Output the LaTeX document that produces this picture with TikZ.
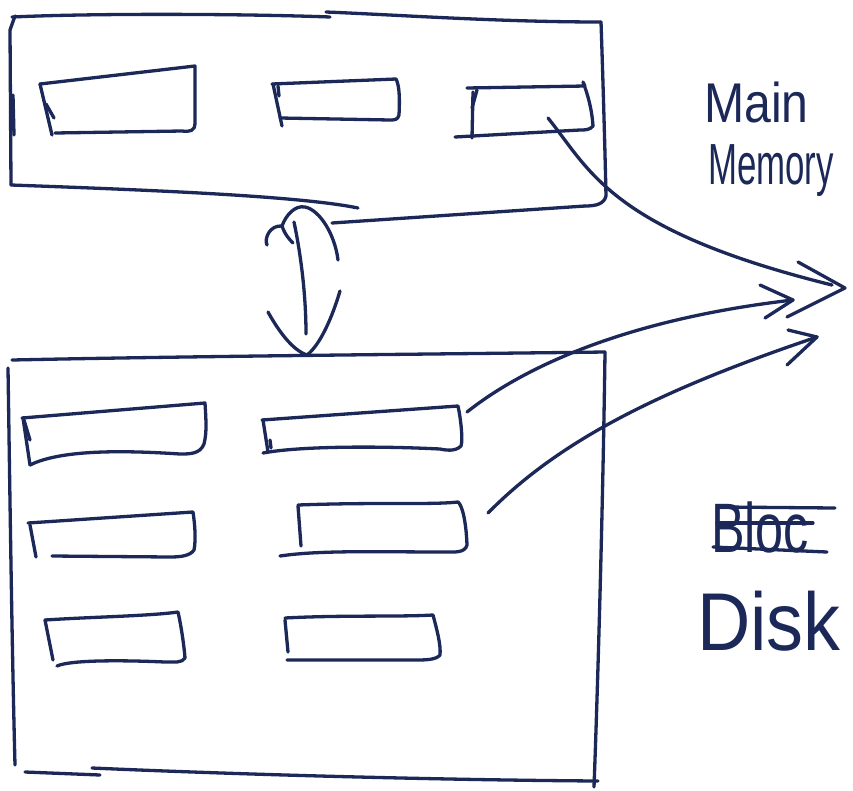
\documentclass[tikz,border=0pt]{standalone}
\usepackage{fontspec}
\setmainfont{Liberation Sans}
\definecolor{ink}{HTML}{1B2858}
\begin{document}
\begin{tikzpicture}[x=1pt,y=-1pt,
  pen/.style={draw=ink,line width=3.3pt,line cap=round,line join=round},
  lbl/.style={text=ink,inner sep=0pt,anchor=base west}]
\useasboundingbox[fill=white] (0,0) rectangle (853,790);

% ---------- Main memory box ----------
\draw[pen] (12,17) .. controls (100,13) and (250,14) .. (330,17);
\draw[pen] (326,12) .. controls (400,15) and (500,22) .. (601,22);
\draw[pen] (15,16) -- (10,30) -- (11,185);
\draw[pen] (13,95) -- (14,135);
\draw[pen] (11,185) .. controls (150,190) and (300,196) .. (358,208);
\draw[pen] (601,22) .. controls (603,80) and (605,150) .. (606,196) .. controls (604,204) and (596,206) .. (585,206);
\draw[pen] (585,206) -- (332,223);

% memory blocks
\draw[pen] (40,84) -- (195,66) -- (195,123) .. controls (195,131) and (190,132) .. (182,131) -- (55,133);
\draw[pen] (40,84) -- (52,135);
\draw[pen] (46,104) -- (54,118);
\draw[pen] (272,84) -- (396,79) .. controls (399,85) and (400,95) .. (399,115) .. controls (398,120) and (394,120) .. (390,120) -- (280,118);
\draw[pen] (273,84) -- (282,126);
\draw[pen] (278,86) -- (279,96);
\draw[pen] (467,88) -- (585,86) -- (583,82) .. controls (588,95) and (592,110) .. (593,126) .. controls (590,130) and (585,130) .. (580,130) -- (455,137);
\draw[pen] (473,92) -- (472,138);
\draw[pen] (477,90) -- (472,108);

% ---------- Disk box ----------
\draw[pen] (12,360) .. controls (200,356) and (450,354) .. (605,352);
\draw[pen] (8,368) .. controls (10,500) and (12,650) .. (15,765);
\draw[pen] (25,772) -- (100,775);
\draw[pen] (92,768) .. controls (250,775) and (450,780) .. (598,781);
\draw[pen] (605,352) .. controls (603,500) and (598,680) .. (594,787);

% disk blocks
\draw[pen] (22,418) -- (205,403) .. controls (206,420) and (207,432) .. (204,444) .. controls (200,454) and (190,454) .. (180,454) .. controls (120,450) and (60,450) .. (30,465);
\draw[pen] (23,418) -- (30,465);
\draw[pen] (24,420) -- (30,440);
\draw[pen] (262,420) -- (458,406) .. controls (461,420) and (463,440) .. (461,446) .. controls (455,452) and (445,450) .. (440,449) .. controls (380,446) and (300,446) .. (263,453);
\draw[pen] (263,420) -- (268,452);
\draw[pen] (270,440) -- (271,448);
\draw[pen] (28,523) -- (193,512) .. controls (195,525) and (196,540) .. (194,550) .. controls (190,556) and (180,557) .. (170,557) -- (52,556);
\draw[pen] (30,525) -- (36,557);
\draw[pen] (298,505) .. controls (380,502) and (430,505) .. (458,502) .. controls (462,505) and (466,520) .. (467,545) .. controls (465,553) and (455,552) .. (445,552) .. controls (380,552) and (320,550) .. (280,556);
\draw[pen] (298,506) -- (301,546);
\draw[pen] (45,620) .. controls (90,617) and (150,616) .. (178,612) .. controls (181,625) and (184,645) .. (185,658) .. controls (182,663) and (175,662) .. (165,662) .. controls (120,660) and (70,660) .. (57,666);
\draw[pen] (45,620) -- (53,660);
\draw[pen] (285,618) .. controls (340,615) and (400,617) .. (433,615) .. controls (437,630) and (441,645) .. (440,655) .. controls (436,660) and (425,660) .. (415,660) -- (287,660);
\draw[pen] (285,620) -- (288,652);

% ---------- swap symbol ----------
\draw[pen] (267,245) .. controls (264,238) and (270,225) .. (282,226) .. controls (286,215) and (295,205) .. (305,207) .. controls (320,210) and (335,235) .. (338,260);
\draw[pen] (282,226) .. controls (285,235) and (290,240) .. (293,243);
\draw[pen] (294,222) .. controls (302,260) and (306,300) .. (306,334);
\draw[pen] (268,312) .. controls (278,330) and (292,350) .. (307,355) .. controls (320,345) and (332,318) .. (340,291);

% ---------- labels ----------
\node[lbl,font=\fontsize{56}{58}\selectfont,xscale=0.86,transform shape] (mm1) at (704,122) {Main};
\node[lbl,font=\fontsize{58}{60}\selectfont,xscale=0.6,transform shape] (mm2) at (708,184) {Memory};
\node[lbl,font=\fontsize{70}{72}\selectfont,xscale=0.72,transform shape] (bloc) at (711,552) {Bloc};
\node[lbl,font=\fontsize{82}{84}\selectfont,xscale=0.9,transform shape] (disk) at (697,650) {Disk};
\draw[pen] (723,507) -- (835,508);
\draw[pen] (717,523) -- (813,523);
\draw[pen] (713,547) -- (827,552);

% ---------- transfer arrows ----------
\coordinate (s1) at (548,118);
\coordinate (t1) at (832,285);
\coordinate (h1) at (845,288);
\draw[pen] (s1) .. controls (590,170) and (610,230) .. (t1);
\draw[pen] (798,262) -- (h1) -- (787,317);

\coordinate (s2) at (467,412);
\coordinate (h2) at (793,300);
\draw[pen] (s2) .. controls (520,370) and (620,320) .. (h2);
\draw[pen] (760,285) -- (h2) -- (765,318);

\coordinate (s3) at (488,513);
\coordinate (h3) at (817,337);
\draw[pen] (s3) .. controls (560,440) and (660,390) .. (h3);
\draw[pen] (788,330) -- (h3) -- (787,365);
\end{tikzpicture}
\end{document}
